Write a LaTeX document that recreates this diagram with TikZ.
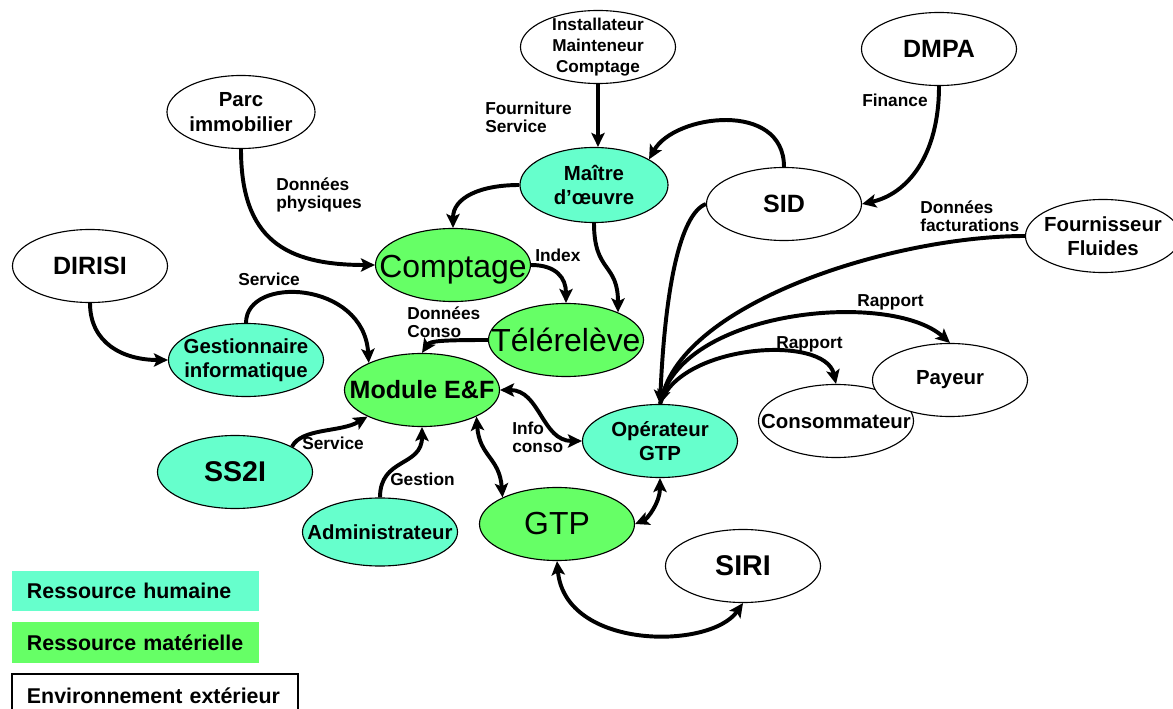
\documentclass[tikz,border=0pt]{standalone}
\usepackage{fontspec}
\setmainfont{Liberation Sans}
\usepackage{xcolor}
\usetikzlibrary{
    arrows.meta,
    shapes.geometric
}
\definecolor{humain}{RGB}{102,255,204}
\definecolor{materiel}{RGB}{102,255,102}
\tikzset{
  ent/.style    = {ellipse, draw, line width=0.8pt, fill=white,
                   minimum width=3.875cm, minimum height=1.825cm, inner sep=0pt},
  hum/.style    = {ent, fill=humain},
  mat/.style    = {ent, fill=materiel},
  tsm/.style    = {align=center, inner sep=0pt, font=\bfseries\fontsize{12.2}{15}\selectfont},
  tmd/.style    = {align=center, inner sep=0pt, font=\bfseries\fontsize{14.5}{17.2}\selectfont},
  tlg/.style    = {inner sep=0pt, font=\bfseries\fontsize{17.8}{21}\selectfont},
  txl/.style    = {inner sep=0pt, font=\bfseries\fontsize{20.3}{24}\selectfont},
  treg/.style   = {inner sep=0pt, font=\fontsize{22.7}{27}\selectfont},
  lab/.style    = {anchor=north west, align=left, inner sep=0pt,
                   font=\bfseries\fontsize{12.3}{12.8}\selectfont},
  legbox/.style = {minimum height=1cm, inner xsep=0.375cm, inner ysep=0pt, align=left,
                   font=\bfseries\fontsize{15.2}{18}\selectfont},
  flow/.style   = {-{Stealth[length=10pt, width=9.5pt, inset=2.2pt]}, line width=2.8pt},
  flow2/.style  = {{Stealth[length=10pt, width=9.5pt, inset=2.2pt]}-{Stealth[length=10pt, width=9.5pt, inset=2.2pt]},
                   line width=2.8pt}
}

\begin{document}
\begin{tikzpicture}[x=0.025cm, y=-0.025cm]
\useasboundingbox (0,0) rectangle (1173,709);
\clip (0,0) rectangle (1173,709);
\node[ent, label={[tsm]center:{Installateur\\Mainteneur\\Comptage}}] (inst) at (598,47) {};
\node[ent, minimum width=3.7cm, label={[tmd]center:{Parc\\immobilier}}] (parc) at (241,112) {};
\node[ent, label={[tlg]center:DMPA}] (dmpa) at (939,49) {};
\node[hum, minimum width=3.7cm, minimum height=1.875cm, label={[tmd]center:{Maître\\d’œuvre}}] (moe) at (594,185) {};
\node[ent, label={[tlg]center:SID}] (sid) at (784,204) {};
\node[ent, label={[tmd]center:{Fournisseur\\Fluides}}] (four) at (1103,236) {};
\node[ent, label={[tlg]center:DIRISI}] (dirisi) at (90,266) {};
\node[mat, label={[treg, yshift=-3.5pt]center:Comptage}] (compt) at (453,265) {};
\node[mat, label={[treg]center:Télérelève}] (tele) at (566,340) {};
\node[hum, label={[tmd]center:{Gestionnaire\\informatique}}] (gest) at (246,360) {};
\node[mat, label={[tlg]center:Module E\&F}] (mod) at (422,390) {};
\node[hum, label={[tmd]center:{Opérateur\\GTP}}] (oper) at (660,441) {};
\node[ent, label={[tmd]center:Consommateur}] (cons) at (836,421) {};
\node[ent, label={[tmd]center:Payeur}] (pay) at (950,380) {};
\node[hum, label={[txl]center:SS2I}] (ss2i) at (235,472) {};
\node[hum, minimum height=1.7cm, label={[tmd]center:Administrateur}] (admin) at (380,532) {};
\node[mat, label={[treg]center:GTP}] (gtp) at (557,524) {};
\node[ent, label={[txl]center:SIRI}] (siri) at (743,566) {};
\draw[flow] (inst.south) -- (inst.south |- moe.north);
\draw[flow] (parc.south) .. controls +(0,90) and +(-90,0) .. (compt.west);
\draw[flow] (moe.west) .. controls +(-40,0) and +(0,-30) .. (compt.north);
\draw[flow] (moe.south) .. controls +(0,50) and +(0,-50) .. (tele.28);
\draw[flow] (sid.north) .. controls +(0,-67) and +(25,-45) .. (moe.25);
\draw[flow] (dmpa.south) .. controls +(0,70) and +(45,-10) .. (sid.east);
\draw[flow] (compt.east) .. controls +(25,0) and +(0,-25) .. (tele.north);
\draw[flow] (tele.west) .. controls +(-45,0) and +(8,-12) .. (mod.north);
\draw[flow] (dirisi.south) .. controls +(0,40) and +(-45,0) .. (gest.west);
\draw[flow] (gest.north) .. controls +(0,-48) and +(-5,-82) .. (mod.153);
\draw[flow] (ss2i.24) .. controls +(10,-19) and +(-27,16) .. (mod.206);
\draw[flow] (admin.north) .. controls +(0,-40) and +(0,40) .. (mod.south);
\draw[flow2] (mod.334) .. controls +(3,40) and +(-3,-40) .. (gtp.154);
\draw[flow2] (mod.east) .. controls +(40,0) and +(-40,0) .. (oper.west);
\draw[flow2] (oper.south) .. controls +(0,25) and +(12,-5) .. (gtp.east);
\draw[flow2] (gtp.south) .. controls +(8,89) and +(-33,47) .. (siri.south);
\draw[flow] (sid.west) .. controls +(-26,10) and +(5,-115) .. (oper.north);
\draw[flow] (four.west) .. controls +(-127,0) and +(30,-105) .. (oper.north);
\draw[flow] (oper.north) .. controls +(20,-95) and +(-60,-53) .. (pay.north);
\draw[flow] (oper.north) .. controls +(20,-60) and +(-11,-50) .. (cons.north);
\node[lab] (lfour) at (485,102) {Fourniture\\Service};
\node[lab] (lphys) at (276,178) {Données\\physiques};
\node[lab] (lfin) at (862,94) {Finance};
\node[lab] (lidx) at (535,249) {Index};
\node[lab] (lconso) at (407,307) {Données\\Conso};
\node[lab] (lserv1) at (238,273) {Service};
\node[lab] (lserv2) at (302,437) {Service};
\node[lab] (lgest) at (390,473) {Gestion};
\node[lab] (linfo) at (512,422) {Info\\conso};
\node[lab] (lfact) at (920,201) {Données\\facturations};
\node[lab] (lrap1) at (857,294) {Rapport};
\node[lab] (lrap2) at (776,336) {Rapport};
\node[legbox, fill=humain, text width=5.425cm] (leghum) at (135.5,591) {Ressource humaine};
\node[legbox, fill=materiel, text width=5.425cm] (legmat) at (135.5,642.5) {Ressource matérielle};
\node[legbox, draw, line width=0.8pt, minimum height=1.1cm, text width=6.4cm] (legext) at (155,696) {Environnement extérieur};
\end{tikzpicture}
\end{document}
